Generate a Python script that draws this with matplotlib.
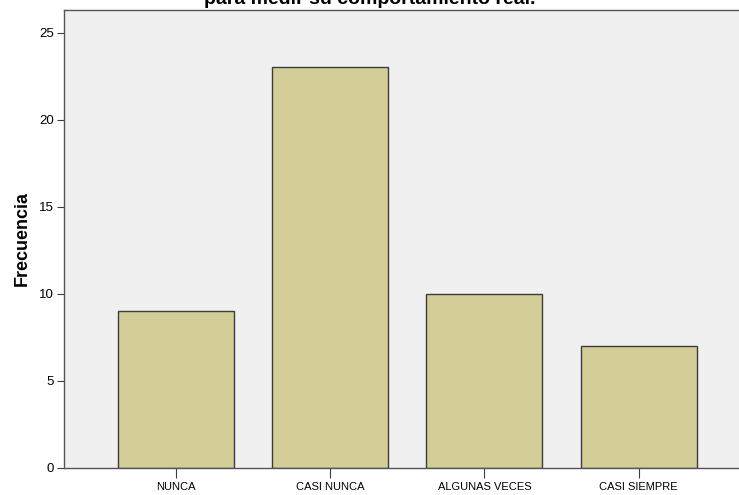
import matplotlib
matplotlib.use('Agg')
import matplotlib.pyplot as plt

categorias = ["NUNCA", "CASI NUNCA", "ALGUNAS VECES", "CASI SIEMPRE"]
frecuencias = [9, 23, 10, 7]
titulo = "para medir su comportamiento real."

plt.rcParams['font.family'] = ['Liberation Sans', 'DejaVu Sans']

fig = plt.figure(figsize=(7.39, 4.95), dpi=100)
ax = fig.add_axes([64 / 739, 27 / 495, 1 - 64 / 739 + 0.002, 458 / 495])
ax.set_facecolor('#f0f0f0')

x = list(range(len(categorias)))
ax.bar(x, frecuencias, width=0.75, color='#d3ce97', edgecolor='#3c3c3c', linewidth=1.0, zorder=2)

ax.set_xlim(-0.724, 3.66)
ax.set_ylim(0, 26.3)
ax.set_yticks([0, 5, 10, 15, 20, 25])
ax.set_xticks(x)
ax.set_xticklabels(categorias, fontsize=8)
ax.tick_params(axis='y', labelsize=9.5, length=5, width=0.8, color='#3c3c3c', pad=2)
ax.tick_params(axis='x', length=7, width=0.8, color='#3c3c3c', pad=3)

for side in ['left', 'bottom', 'top']:
    ax.spines[side].set_color('#555555')
    ax.spines[side].set_linewidth(1.0)
ax.spines['right'].set_visible(False)

ax.set_ylabel('Frecuencia', fontsize=13, fontweight='bold', labelpad=6)

# title sits mostly above the canvas edge
fig.text(0.5, 1 - 4 / 495, titulo, ha='center', va='baseline', fontsize=14, fontweight='bold')

fig.savefig('out.png', dpi=100)
